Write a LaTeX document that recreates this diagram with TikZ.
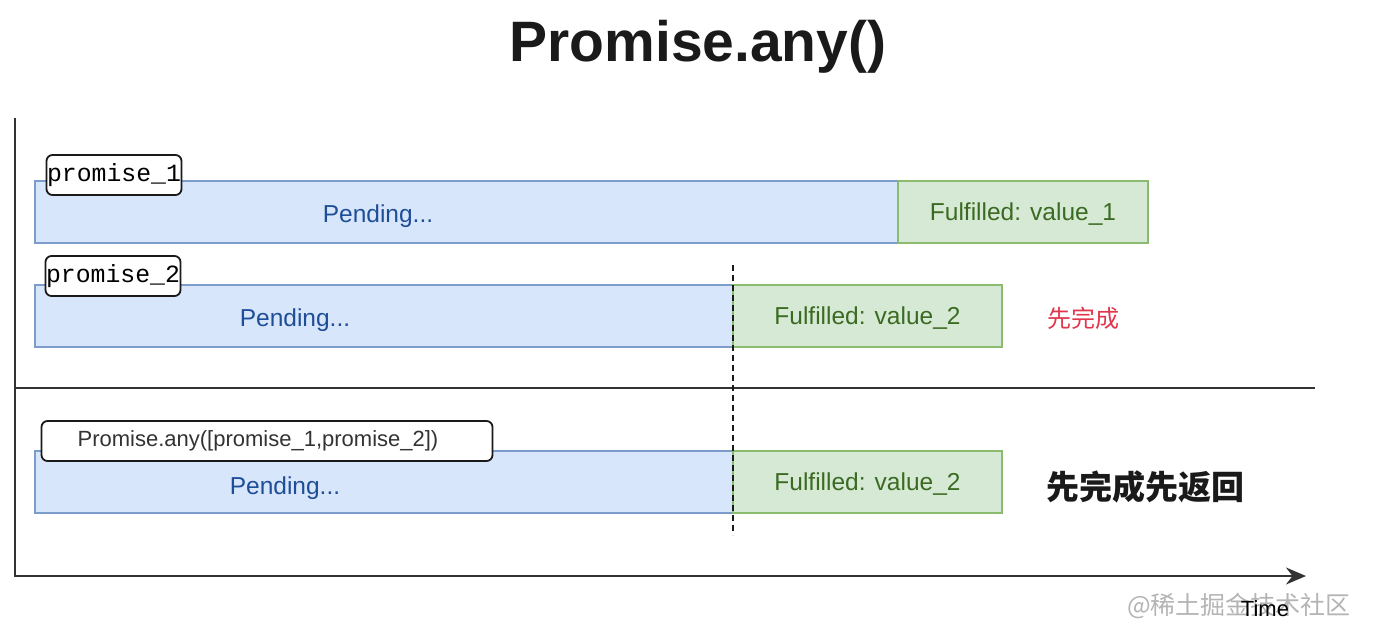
\documentclass[tikz,border=0pt]{standalone}
\usepackage{fontspec}
\usepackage{tikz}
\usetikzlibrary{positioning, arrows.meta}
\setmainfont{Liberation Sans}
\newfontfamily\monofont{Liberation Mono}
\newfontfamily\cjk{Noto Sans CJK SC}
\definecolor{pendfill}{HTML}{D8E6FB}
\definecolor{pendline}{HTML}{7C9CCB}
\definecolor{pendtext}{HTML}{1F4E99}
\definecolor{donefill}{HTML}{D6E9D4}
\definecolor{doneline}{HTML}{8BBB6E}
\definecolor{donetext}{HTML}{3B6A22}
\definecolor{firstred}{HTML}{E0364C}
\definecolor{ink}{HTML}{1A1A1A}
\definecolor{axisgray}{HTML}{333333}
\definecolor{markgray}{HTML}{B4B4B4}

\begin{document}
\begin{tikzpicture}[x=1pt, y=-1pt, every node/.style={font=\fontsize{24.5}{29}\selectfont},
    pendbox/.style={draw=pendline, line width=1.6pt, fill=pendfill, outer sep=0pt, anchor=north west, minimum height=62pt},
    pendlabel/.style={text=pendtext, text height=17.6pt, text depth=0pt},
    donebox/.style={draw=doneline, line width=1.6pt, fill=donefill, outer sep=0pt, minimum height=62pt, text=donetext, text height=17.6pt, text depth=0pt},
    tagbox/.style={draw=ink, line width=1.8pt, fill=white, rounded corners=6pt, inner xsep=0pt, inner ysep=0pt, minimum height=40pt},
    axis/.style={draw=axisgray, line width=2.4pt}]
  \useasboundingbox (0,0) rectangle (1400,639);

  \node[font=\bfseries\fontsize{57}{64}\selectfont, text=ink] (title) at (698,47) {Promise.any()};

  % promise_1
  \node[pendbox, minimum width=863pt] (p1wait) at (35,181) {};
  \node[donebox, minimum width=250pt, right=0pt of p1wait] (p1done) {Fulfilled: value\_1};
  \node[pendlabel] (p1txt) at (378,214) {Pending...};
  \node[tagbox, minimum width=135pt, font=\monofont\fontsize{24.8}{29}\selectfont] (p1tag) at (114,175) {promise\_1};

  % promise_2
  \node[pendbox, minimum width=698pt] (p2wait) at (35,285) {};
  \node[donebox, minimum width=269pt, right=0pt of p2wait] (p2done) {Fulfilled: value\_2};
  \node[pendlabel] (p2txt) at (295,318) {Pending...};
  \node[tagbox, minimum width=135pt, font=\monofont\fontsize{24.8}{29}\selectfont] (p2tag) at (113,276) {promise\_2};
  \node[font=\cjk\fontsize{24}{28}\selectfont, text=firstred] (first) at (1083,318) {先完成};

  % Promise.any
  \node[pendbox, minimum width=698pt] (p3wait) at (35,451) {};
  \node[donebox, minimum width=269pt, right=0pt of p3wait] (p3done) {Fulfilled: value\_2};
  \node[pendlabel] (p3txt) at (285,486) {Pending...};
  \node[tagbox, minimum width=451pt, text=axisgray, font=\fontsize{22}{26}\selectfont] (p3tag) at (267,441) {Promise.any([promise\_1,promise\_2])\hspace*{18pt}};
  \node[font=\cjk\bfseries\fontsize{33}{38}\selectfont, text=ink] (result) at (1145,487) {先完成先返回};

  % axes and guides
  \coordinate (origin) at (15,576);
  \coordinate (ytop) at (15,118);
  \coordinate (xend) at (1306,576);
  \coordinate (sepl) at (15,388);
  \coordinate (sepr) at (1315,388);
  \coordinate (dtop) at (733,265);
  \coordinate (dbot) at (733,535);
  \draw[axis, line width=2pt] (sepl) -- (sepr);
  \draw[ink, line width=1.8pt, dash pattern=on 6pt off 4pt] (dtop) -- (dbot);
  \draw[axis, -{Stealth[length=20pt, width=17pt]}] (ytop) -- (origin) -- (xend);

  \node[font=\cjk\fontsize{25}{29}\selectfont, text=markgray] (mark) at (1239,606) {@稀土掘金技术社区};
  \node[font=\fontsize{22}{26}\selectfont, text=black] (time) at (1265,609) {Time};
\end{tikzpicture}
\end{document}
